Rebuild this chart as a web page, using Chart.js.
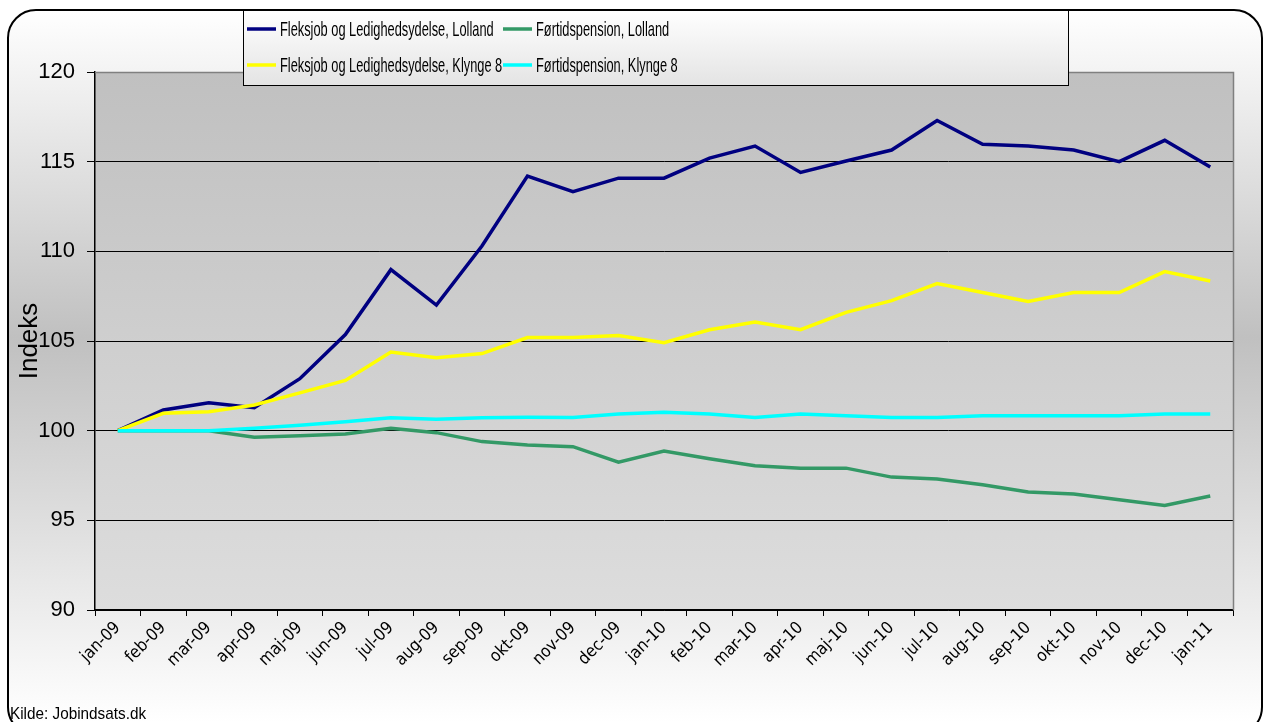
<!DOCTYPE html>
<html>
<head>
<meta charset="utf-8">
<script src="https://cdn.jsdelivr.net/npm/chart.js@4.4.0/dist/chart.umd.min.js"></script>
<style>
html, body { margin: 0; padding: 0; background: #fff; }
#wrap { width: 1263px; height: 722px; }
</style>
</head>
<body>
<div id="wrap"><canvas id="indeksChart" width="1263" height="722"></canvas></div>
<script>
const maaneder = ['jan-09', 'feb-09', 'mar-09', 'apr-09', 'maj-09', 'jun-09', 'jul-09', 'aug-09', 'sep-09', 'okt-09', 'nov-09', 'dec-09',
    'jan-10', 'feb-10', 'mar-10', 'apr-10', 'maj-10', 'jun-10', 'jul-10', 'aug-10', 'sep-10', 'okt-10', 'nov-10', 'dec-10', 'jan-11'];

const fleksLolland = [100, 101.15, 101.56, 101.28, 102.9, 105.36, 108.98, 107.0, 110.3, 114.2, 113.33, 114.08,
    114.08, 115.2, 115.87, 114.4, 115.04, 115.65, 117.3, 115.97, 115.87, 115.65, 115.0, 116.19, 114.7];
const foertidLolland = [100, 100, 100, 99.63, 99.72, 99.81, 100.13, 99.89, 99.39, 99.2, 99.11, 98.24,
    98.87, 98.43, 98.04, 97.9, 97.91, 97.41, 97.3, 96.98, 96.58, 96.47, 96.15, 95.83, 96.36];
const fleksKlynge = [100, 100.97, 101.06, 101.43, 102.11, 102.8, 104.39, 104.07, 104.3, 105.19, 105.19, 105.3,
    104.9, 105.63, 106.06, 105.63, 106.6, 107.25, 108.2, 107.7, 107.2, 107.7, 107.7, 108.87, 108.35];
const foertidKlynge = [100, 100, 100, 100.13, 100.3, 100.5, 100.72, 100.63, 100.72, 100.75, 100.74, 100.93,
    101.02, 100.93, 100.74, 100.93, 100.83, 100.74, 100.74, 100.83, 100.83, 100.83, 100.83, 100.93, 100.93];

const yMin = 90;
const yMax = 120;
const yStep = 5;

const kildeTekst = 'Kilde: Jobindsats.dk';

// baggrund: afrundet ramme med gradient + plotområde
const baggrundPlugin = {
    id: 'baggrund',
    beforeDraw(chart) {
        const ctx = chart.ctx;
        const a = chart.chartArea;
        ctx.save();
        ctx.fillStyle = '#ffffff';
        ctx.fillRect(0, 0, chart.width, chart.height);

        const g = ctx.createLinearGradient(0, 10, 0, 722);
        g.addColorStop(0, '#ffffff');
        g.addColorStop(0.46, '#c0c0c0');
        g.addColorStop(1, '#ffffff');
        ctx.beginPath();
        ctx.roundRect(8, 10, 1254, 725, 28);
        ctx.fillStyle = g;
        ctx.fill();
        ctx.lineWidth = 2;
        ctx.strokeStyle = '#000000';
        ctx.stroke();

        const pg = ctx.createLinearGradient(0, a.top, 0, a.bottom);
        pg.addColorStop(0, '#c0c0c0');
        pg.addColorStop(1, '#dddddd');
        ctx.fillStyle = pg;
        ctx.fillRect(a.left, a.top, a.right - a.left, a.bottom - a.top);
        ctx.restore();
    },
    afterDraw(chart) {
        const ctx = chart.ctx;
        const a = chart.chartArea;
        ctx.save();
        // plotramme top og højre
        ctx.strokeStyle = '#808080';
        ctx.lineWidth = 1.5;
        ctx.beginPath();
        ctx.moveTo(a.left, a.top + 0.5);
        ctx.lineTo(a.right + 0.5, a.top + 0.5);
        ctx.lineTo(a.right + 0.5, a.bottom);
        ctx.stroke();

        // kilde
        ctx.fillStyle = '#000000';
        ctx.font = '17px "Liberation Sans", Arial, sans-serif';
        ctx.textBaseline = 'alphabetic';
        ctx.translate(10, 719);
        ctx.scale(0.9, 1);
        ctx.fillText(kildeTekst, 0, 0);
        ctx.restore();

        // forklaring
        ctx.save();
        const bx = 243, by = 10, bw = 825, bh = 75;
        const lg = ctx.createLinearGradient(0, by, 0, by + bh);
        lg.addColorStop(0, '#ffffff');
        lg.addColorStop(1, '#e4e4e4');
        ctx.fillStyle = lg;
        ctx.fillRect(bx, by, bw, bh);
        ctx.strokeStyle = '#000000';
        ctx.lineWidth = 1;
        ctx.strokeRect(bx + 0.5, by + 0.5, bw, bh);

        const kolX = [247, 503];
        const raekkeY = [29, 65];
        chart.data.datasets.forEach(function(ds, i) {
            const x = kolX[i % 2];
            const y = raekkeY[Math.floor(i / 2)];
            ctx.strokeStyle = ds.borderColor;
            ctx.lineWidth = 3.5;
            ctx.beginPath();
            ctx.moveTo(x, y);
            ctx.lineTo(x + 29, y);
            ctx.stroke();
            ctx.save();
            ctx.fillStyle = '#000000';
            ctx.font = '21px "Liberation Sans", Arial, sans-serif';
            ctx.textBaseline = 'middle';
            ctx.translate(x + 33, y + 1);
            ctx.scale(0.61, 1);
            ctx.fillText(ds.label, 0, 0);
            ctx.restore();
        });
        ctx.restore();
    }
};

const ctxIndeks = document.getElementById('indeksChart');
new Chart(ctxIndeks, {
    type: 'line',
    data: {
        labels: maaneder,
        datasets: [{
            label: 'Fleksjob og Ledighedsydelse, Lolland',
            data: fleksLolland,
            borderColor: '#000080',
            order: 4
        }, {
            label: 'Førtidspension, Lolland',
            data: foertidLolland,
            borderColor: '#339966',
            order: 3
        }, {
            label: 'Fleksjob og Ledighedsydelse, Klynge 8',
            data: fleksKlynge,
            borderColor: '#ffff00',
            order: 2
        }, {
            label: 'Førtidspension, Klynge 8',
            data: foertidKlynge,
            borderColor: '#00ffff',
            order: 1
        }]
    },
    options: {
        responsive: false,
        animation: false,
        devicePixelRatio: 1,
        datasets: {
            line: {
                borderWidth: 3.5,
                pointRadius: 0,
                tension: 0,
                fill: false
            }
        },
        layout: {
            padding: { top: 72, right: 30, left: 0, bottom: 0 }
        },
        plugins: {
            legend: { display: false },
            tooltip: { enabled: false }
        },
        scales: {
            x: {
                type: 'category',
                offset: true,
                afterFit: function(scale) { scale.height = 112; },
                grid: {
                    offset: true,
                    drawOnChartArea: false,
                    color: '#000000',
                    tickLength: 6
                },
                border: { color: '#000000', width: 1.5 },
                ticks: {
                    autoSkip: false,
                    minRotation: 45,
                    maxRotation: 45,
                    padding: 2,
                    color: '#000000',
                    font: { family: '"Liberation Sans Narrow", "DejaVu Sans Condensed", Arial, sans-serif', size: 17 }
                }
            },
            y: {
                min: yMin,
                max: yMax,
                afterFit: function(scale) { scale.width = 95; },
                grid: {
                    color: '#000000',
                    lineWidth: 1,
                    tickLength: 8
                },
                border: { color: '#000000', width: 1.5 },
                ticks: {
                    stepSize: yStep,
                    padding: 12,
                    color: '#000000',
                    font: { family: '"Liberation Sans", Arial, sans-serif', size: 22 }
                },
                title: {
                    display: true,
                    text: 'Indeks',
                    color: '#000000',
                    padding: { top: 14, bottom: 0 },
                    font: { family: '"Liberation Sans", Arial, sans-serif', size: 26 }
                }
            }
        }
    },
    plugins: [baggrundPlugin]
});
</script>
</body>
</html>
